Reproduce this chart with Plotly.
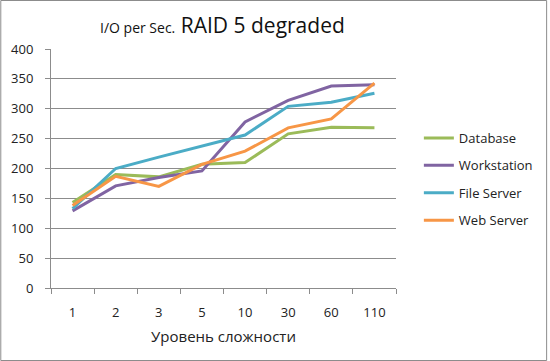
import plotly.graph_objects as go

categories = ["1", "2", "3", "5", "10", "30", "60", "110"]
database = [143, 190, 186, 207, 210, 258, 269, 268]
workstation = [129, 171, 185, 196, 278, 314, 338, 340]
file_server = [133, 200, 219, 238, 256, 304, 311, 326]
web_server = [138, 187, 170, 207, 229, 268, 283, 343]
y_ticks = [0, 50, 100, 150, 200, 250, 300, 350, 400]

series = [
    ("Database", database, "#9BBB59"),
    ("Workstation", workstation, "#8064A2"),
    ("File Server", file_server, "#4BACC6"),
    ("Web Server", web_server, "#F79646"),
]

fig = go.Figure()
for i, (name, vals, color) in enumerate(series):
    fig.add_trace(go.Scatter(x=categories, y=vals, name=name, mode="lines",
                             line=dict(color=color, width=3),
                             legendgroup=name))

W, H = 550, 361
L, R, T, B = 51, 398, 49, 288
pw, ph = R - L, B - T

font = "Open Sans, Noto Sans, sans-serif"
fig.update_layout(
    width=W, height=H,
    margin=dict(l=L, r=W - R, t=T, b=H - B),
    paper_bgcolor="white", plot_bgcolor="white",
    font=dict(family=font, size=13, color="#222"),
    showlegend=True,
    legend=dict(x=(421 - L) / pw, xanchor="left", y=(B - 123) / ph, yanchor="top",
                font=dict(size=13, color="#222"), itemwidth=30,
                tracegroupgap=7.5, bgcolor="rgba(0,0,0,0)"),
    xaxis=dict(type="category", showgrid=False, showline=True, linecolor="#8c8c8c",
               ticks="outside", tickson="boundaries", ticklen=5, tickcolor="#8c8c8c",
               tickfont=dict(size=13, color="#222"), ticklabelstandoff=12,
               title=dict(text="Уровень сложности", font=dict(size=15, color="#222"), standoff=11),
               range=[-0.5, 7.5]),
    yaxis=dict(range=[0, 400], tickvals=y_ticks, showgrid=True, gridcolor="#8c8c8c",
               gridwidth=1, showline=True, linecolor="#8c8c8c", ticks="outside",
               ticklen=5, tickcolor="#8c8c8c", tickfont=dict(size=13, color="#222"),
               ticklabelstandoff=9, zeroline=False),
    annotations=[dict(
        text="<span style='font-size:14px'>I/O per Sec.</span> RAID 5 degraded",
        xref="paper", yref="paper", x=(223 - L) / pw, y=(B - 25) / ph,
        xanchor="center", yanchor="middle", showarrow=False,
        font=dict(size=21, color="#111", family=font))],
    shapes=[dict(type="rect", xref="paper", yref="paper",
                 x0=(0.5 - L) / pw, x1=(W - 0.5 - L) / pw,
                 y0=(B - (H - 0.5)) / ph, y1=(B - 0.5) / ph,
                 line=dict(color="#8c8c8c", width=1), layer="below")],
)

fig.write_html("out.html", config={"displayModeBar": False},
               post_script="document.body.style.margin='0';document.body.style.overflow='hidden';")
